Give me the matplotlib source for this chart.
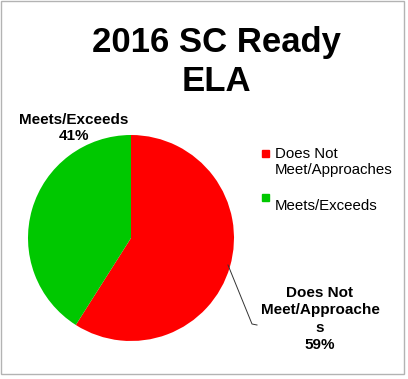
import matplotlib
matplotlib.use("Agg")
from matplotlib import pyplot as plt
from matplotlib.patches import Rectangle
from matplotlib.lines import Line2D

plt.rcParams['font.family'] = ['Liberation Sans', 'DejaVu Sans']

title = "2016 SC Ready\nELA"
labels = ["Does Not\nMeet/Approaches", "Meets/Exceeds"]
values = [59, 41]
colors = ["#ff0000", "#00c800"]

W, H = 408, 379
fig = plt.figure(figsize=(W / 100, H / 100), dpi=100)

# pie axes: center (131, 238) px, radius 103 px
cx, cy, r = 131, 238, 103
ax = fig.add_axes([(cx - r) / W, 1 - (cy + r) / H, 2 * r / W, 2 * r / H])
wedges, _ = ax.pie(values, colors=colors, startangle=90, counterclock=False,
                   radius=1.0)
ax.set_xlim(-1, 1)
ax.set_ylim(-1, 1)
ax.set_aspect('auto')
ax.axis('off')

fig.text(216 / W, 1 - 62 / H, title, ha='center', va='center',
         fontsize=25, fontweight='bold', linespacing=1.2)

# data labels
fig.text(74 / W, 1 - 128 / H, "Meets/Exceeds\n%d%%" % values[1], ha='center',
         va='center', fontsize=11, fontweight='bold', linespacing=1.15)
fig.text(320 / W, 1 - 319 / H, "Does Not\nMeet/Approache\ns\n%d%%" % values[0],
         ha='center', va='center', fontsize=11, fontweight='bold',
         linespacing=1.3)
fig.add_artist(Line2D([228 / W, 252 / W, 257 / W],
                      [1 - 265 / H, 1 - 324 / H, 1 - 325 / H],
                      color='#333333', lw=0.7))

# legend
leg_y = [162, 206]
for lab, col, y in zip(labels, colors, leg_y):
    fig.add_artist(Rectangle(((265 - 3.5) / W, 1 - (y - 9 + 3.5) / H),
                             7 / W, 7 / H, color=col, transform=fig.transFigure))
    fig.text(275 / W, 1 - y / H, lab, ha='left', va='center', fontsize=10.8,
             linespacing=1.2)

fig.add_artist(Rectangle((1 / W, 1 - 374 / H), 403 / W, 373 / H, fill=False,
                         edgecolor='#b3b3b3', lw=1, transform=fig.transFigure))

fig.savefig("out.png", dpi=100)
